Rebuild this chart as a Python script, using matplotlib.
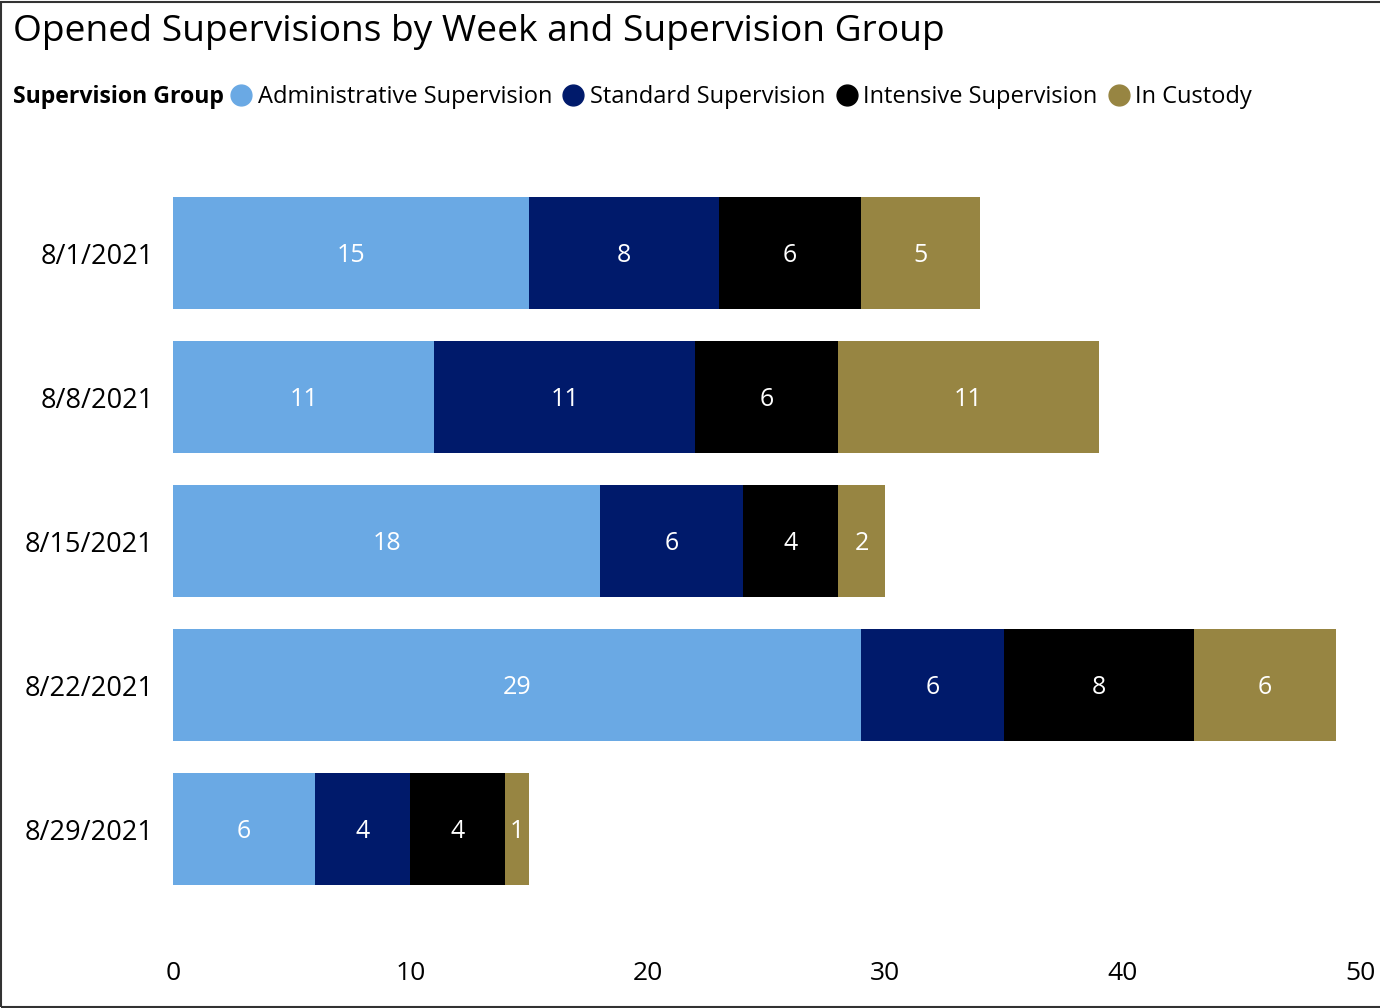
import matplotlib.pyplot as plt
from matplotlib.lines import Line2D
from matplotlib.patches import Rectangle

weeks = ["8/1/2021", "8/8/2021", "8/15/2021", "8/22/2021", "8/29/2021"]
groups = ["Administrative Supervision", "Standard Supervision",
          "Intensive Supervision", "In Custody"]
admin = [15, 11, 18, 29, 6]
standard = [8, 11, 6, 6, 4]
intensive = [6, 6, 4, 8, 4]
custody = [5, 11, 2, 6, 1]
colors = ["#6AA9E4", "#001A6B", "#000000", "#978542"]
xticks = [0, 10, 20, 30, 40, 50]

plt.rcParams['font.family'] = ['Open Sans', 'DejaVu Sans']

fig = plt.figure(figsize=(13.8, 10.08), dpi=100)
ax = fig.add_axes([173 / 1380, 1 - 901 / 1008, (1360 - 173) / 1380, 720 / 1008])

series = [admin, standard, intensive, custody]
ypos = list(range(len(weeks)))
left = [0] * len(weeks)
for vals, col, name in zip(series, colors, groups):
    bars = ax.barh(ypos, vals, left=left, height=0.78, color=col, label=name)
    texts = ax.bar_label(bars, labels=[str(v) for v in vals], label_type='center',
                         color='white', fontsize=18)
    for t in texts:
        t.set_va('center_baseline')
    left = [a + b for a, b in zip(left, vals)]

ax.set_ylim(len(weeks) - 0.5, -0.5)
ax.set_xlim(0, 50)
ax.set_yticks(ypos)
ax.set_yticklabels(weeks, fontsize=19.5)
ax.set_xticks(xticks)
ax.set_xticklabels([str(t) for t in xticks], fontsize=19)
ax.tick_params(axis='both', length=0)
ax.tick_params(axis='x', pad=43)
ax.tick_params(axis='y', pad=14)
for s in ax.spines.values():
    s.set_visible(False)

fig.text(13 / 1380, 1 - 32 / 1008, "Opened Supervisions by Week and Supervision Group",
         fontsize=26.7, va='center', ha='left')
lab = fig.text(13 / 1380, 1 - 97 / 1008, "Supervision Group", fontsize=16.7,
               fontweight='bold', va='center', ha='left')

fig.canvas.draw()
bb = lab.get_window_extent()
x0 = (bb.x1 + 8) / 1380
handles = [Line2D([], [], marker='o', linestyle='', markersize=15, color=c) for c in colors]
fig.legend(handles, groups, loc='center left', bbox_to_anchor=(x0, 1 - 97 / 1008),
           ncol=4, frameon=False, fontsize=17, handletextpad=0.3,
           columnspacing=0.5, borderaxespad=0, borderpad=0, handlelength=0.8)

fig.patches.append(Rectangle((1 / 1380, 1 / 1008), 1.1, 1 - 3 / 1008,
                             transform=fig.transFigure, fill=False,
                             edgecolor='#333333', linewidth=1.5))

fig.savefig("out.png", dpi=100)
